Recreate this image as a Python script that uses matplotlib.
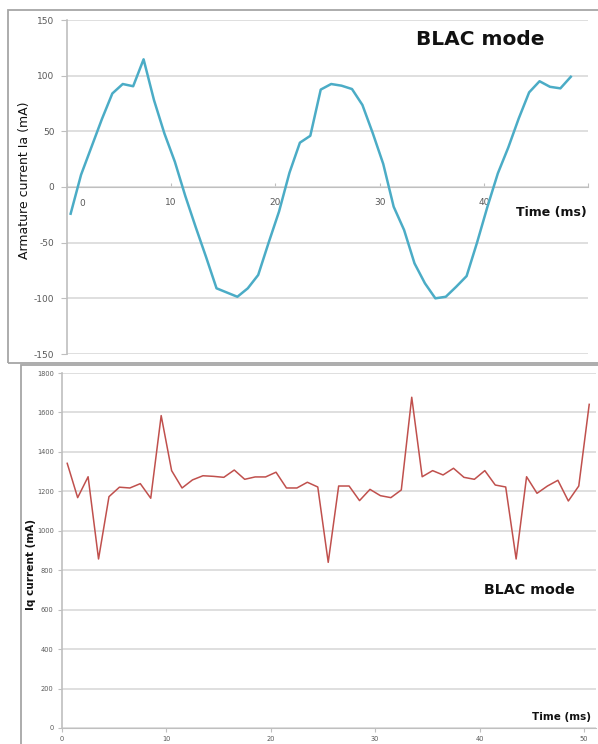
import matplotlib
matplotlib.use("Agg")
import matplotlib.pyplot as plt
from matplotlib.patches import Rectangle

plt.rcParams["axes.unicode_minus"] = False

# ---------------- data ----------------
ia_time = [0.35, 1.35, 2.35, 3.35, 4.35, 5.35, 6.35, 7.35, 8.35, 9.35,
           10.35, 11.35, 12.35, 13.35, 14.35, 15.35, 16.35, 17.35, 18.35, 19.35,
           20.35, 21.35, 22.35, 23.35, 24.35, 25.35, 26.35, 27.35, 28.35, 29.35,
           30.35, 31.35, 32.35, 33.35, 34.35, 35.35, 36.35, 37.35, 38.35, 39.35,
           40.35, 41.35, 42.35, 43.35, 44.35, 45.35, 46.35, 47.35, 48.35]
ia_values = [-24, 11, 36, 61, 84, 92.5, 90.5, 114.7, 78, 48,
             22.7, -8, -36, -63, -91, -94.8, -98.6, -91, -79, -50,
             -22, 12.8, 39.8, 46, 87.5, 92.5, 91, 88, 73.7, 48.2,
             20.7, -17.7, -38.6, -68.6, -86.5, -100, -98.6, -89.6, -80, -50,
             -17.7, 12.3, 35.5, 61.5, 85, 95, 90, 88.6, 99]

iq_time = [0.5, 1.5, 2.5, 3.5, 4.5, 5.5, 6.5, 7.5, 8.5, 9.5,
           10.5, 11.5, 12.5, 13.5, 14.5, 15.5, 16.5, 17.5, 18.5, 19.5,
           20.5, 21.5, 22.5, 23.5, 24.5, 25.5, 26.5, 27.5, 28.5, 29.5,
           30.5, 31.5, 32.5, 33.5, 34.5, 35.5, 36.5, 37.5, 38.5, 39.5,
           40.5, 41.5, 42.5, 43.5, 44.5, 45.5, 46.5, 47.5, 48.5, 49.5, 50.5]
iq_values = [1342, 1168, 1274, 857, 1173, 1221, 1217, 1239, 1165, 1584,
             1305, 1217, 1258, 1279, 1276, 1271, 1308, 1261, 1273, 1273,
             1297, 1217, 1217, 1246, 1222, 840, 1227, 1227, 1153, 1210,
             1178, 1168, 1207, 1677, 1274, 1305, 1283, 1317, 1271, 1261,
             1305, 1232, 1222, 857, 1274, 1190, 1227, 1256, 1151, 1227, 1641]

ia_yticks = [-150, -100, -50, 0, 50, 100, 150]
ia_xticks = [0, 10, 20, 30, 40, 50]
ia_xticklabels = ["", "10", "20", "30", "40", ""]
iq_yticks = [0, 200, 400, 600, 800, 1000, 1200, 1400, 1600, 1800]
iq_xticks = [0, 10, 20, 30, 40, 50]

# ---------------- figure ----------------
W, H = 598, 744
fig = plt.figure(figsize=(W / 100, H / 100), dpi=100)
fig.patch.set_facecolor("white")

def fx(px):
    return px / W

def fy(py):
    return 1 - py / H

# chart-area frames
fig.patches.append(Rectangle((fx(8), fy(363)), fx(600) - fx(8), fy(10) - fy(363),
                             transform=fig.transFigure, fill=False,
                             edgecolor="#a6a6a6", linewidth=1.3, zorder=0))
fig.patches.append(Rectangle((fx(21), fy(760)), fx(610) - fx(21), fy(365) - fy(760),
                             transform=fig.transFigure, fill=False,
                             edgecolor="#a6a6a6", linewidth=1.3, zorder=0))

grid_c = "#d9d9d9"
axis_c = "#bfbfbf"
tick_c = "#595959"

# ---------------- top panel ----------------
ax1 = fig.add_axes([fx(67), fy(354), fx(588) - fx(67), fy(20) - fy(354)])
ax1.plot(ia_time, ia_values, color="#4BACC6", linewidth=1.8, zorder=3)
ax1.set_xlim(0, 50)
ax1.set_ylim(-150, 150)
ax1.set_yticks(ia_yticks)
ax1.set_xticks(ia_xticks)
ax1.set_xticklabels(ia_xticklabels)
ax1.yaxis.grid(True, color=grid_c, linewidth=1.2)
ax1.set_axisbelow(True)
for s in ["top", "right"]:
    ax1.spines[s].set_visible(False)
ax1.spines["bottom"].set_position(("data", 0))
ax1.spines["bottom"].set_color(axis_c)
ax1.spines["left"].set_color(axis_c)
ax1.spines["left"].set_linewidth(1.2)
ax1.tick_params(axis="y", direction="out", length=4, color=axis_c,
                labelsize=6.5, labelcolor=tick_c, pad=5)
ax1.tick_params(axis="x", direction="in", length=3, color=axis_c,
                labelsize=6.5, labelcolor=tick_c, pad=8)
ax1.text(1.45, -15, "0", fontsize=6.5, color=tick_c, ha="center", va="center")
ax1.text(0.793, 0.943, "BLAC mode", transform=ax1.transAxes, fontsize=14.5,
         fontweight="bold", ha="center", va="center", color="#111111")
ax1.text(0.93, 0.425, "Time (ms)", transform=ax1.transAxes, fontsize=9,
         fontweight="bold", ha="center", va="center", color="#111111")
fig.text(fx(25), fy(180), "Armature current Ia (mA)", rotation=90,
         fontsize=9, ha="center", va="center", color="#111111")

# ---------------- bottom panel ----------------
ax2 = fig.add_axes([fx(62), fy(728), fx(596) - fx(62), fy(373) - fy(728)])
ax2.plot(iq_time, iq_values, color="#C0504D", linewidth=1.1, zorder=3)
ax2.set_xlim(0, 51.15)
ax2.set_ylim(0, 1800)
ax2.set_yticks(iq_yticks)
ax2.set_xticks(iq_xticks)
ax2.yaxis.grid(True, color=grid_c, linewidth=1.2)
ax2.set_axisbelow(True)
for s in ["top", "right"]:
    ax2.spines[s].set_visible(False)
ax2.spines["bottom"].set_color(axis_c)
ax2.spines["left"].set_color(axis_c)
ax2.spines["left"].set_linewidth(1.2)
ax2.tick_params(axis="both", direction="out", length=3, color=axis_c,
                labelsize=4.8, labelcolor=tick_c, pad=3)
ax2.text(0.876, 0.389, "BLAC mode", transform=ax2.transAxes, fontsize=10.3,
         fontweight="bold", ha="center", va="center", color="#111111")
ax2.text(0.936, 0.031, "Time (ms)", transform=ax2.transAxes, fontsize=7.5,
         fontweight="bold", ha="center", va="center", color="#111111")
fig.text(fx(31), fy(564), "Iq current (mA)", rotation=90, fontsize=7.6,
         fontweight="bold", ha="center", va="center", color="#111111")

fig.savefig("out.png", dpi=100, facecolor="white")
